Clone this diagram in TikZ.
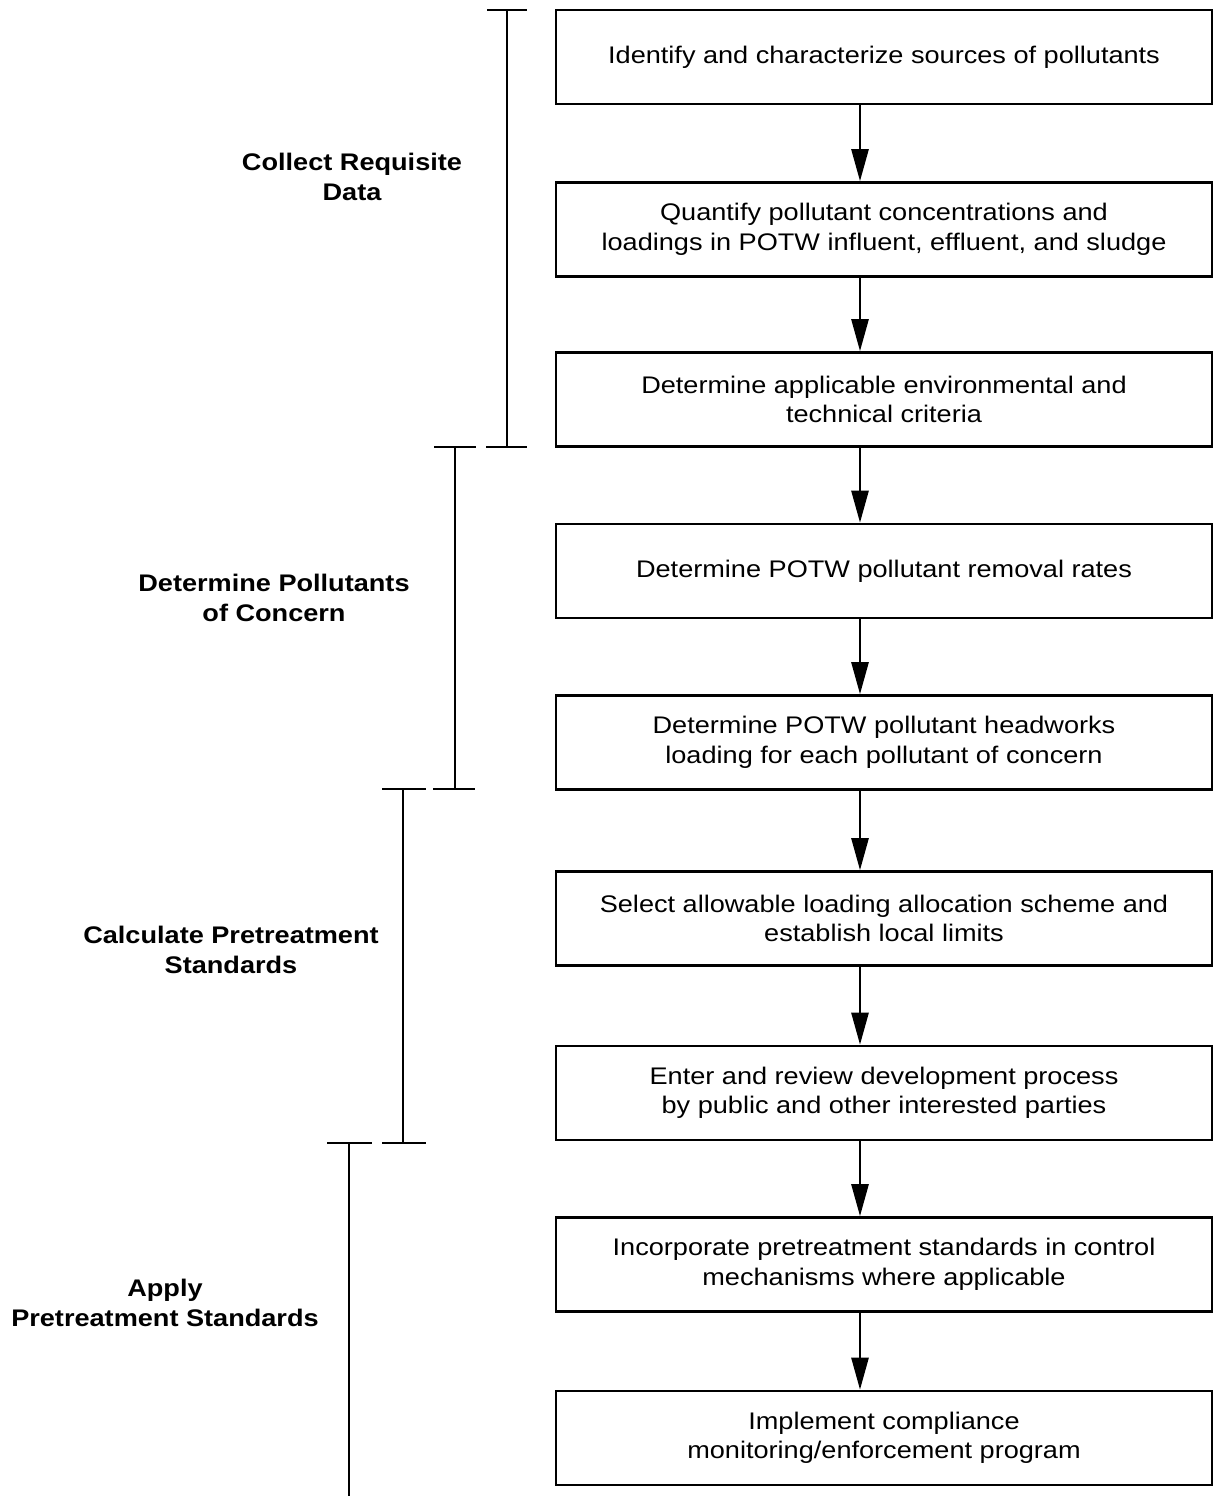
\documentclass[tikz,border=0pt]{standalone}
\usepackage{fontspec}
\setmainfont[FakeStretch=1.13]{Liberation Sans}
\usetikzlibrary{arrows.meta}
\begin{document}
\begin{tikzpicture}[x=1pt,y=-1pt,
  stepbox/.style={draw,line width=2.6pt,minimum width=656pt,minimum height=94pt,
    inner sep=0pt,align=center,font=\fontsize{24}{29.5}\selectfont},
  flow/.style={line width=2.6pt,-{Triangle[length=32pt,width=17pt]}},
  brace/.style={line width=2.6pt},
  phase/.style={align=center,font=\fontsize{24}{29.5}\selectfont\bfseries}]
\useasboundingbox (0,0) rectangle (1215,1496);

% process steps
\node[stepbox] (s1) at (884,57) {Identify and characterize sources of pollutants};
\node[stepbox] (s2) at (884,229.5) {Quantify pollutant concentrations and\\loadings in POTW influent, effluent, and sludge};
\node[stepbox] (s3) at (884,399.5) {Determine applicable environmental and\\technical criteria};
\node[stepbox] (s4) at (884,571) {Determine POTW pollutant removal rates};
\node[stepbox] (s5) at (884,742.5) {Determine POTW pollutant headworks\\loading for each pollutant of concern};
\node[stepbox] (s6) at (884,918.5) {Select allowable loading allocation scheme and\\establish local limits};
\node[stepbox] (s7) at (884,1093) {Enter and review development process\\by public and other interested parties};
\node[stepbox] (s8) at (884,1264.5) {Incorporate pretreatment standards in control\\mechanisms where applicable};
\node[stepbox] (s9) at (884,1438) {Implement compliance\\monitoring/enforcement program};

% arrows between steps
\foreach \a/\b in {s1/s2,s2/s3,s3/s4,s4/s5,s5/s6,s6/s7,s7/s8,s8/s9}
  \draw[flow] ([xshift=-24pt]\a.south) -- ([xshift=-24pt]\b.north);

% phase brackets
\coordinate (c1t) at (507,10);   \coordinate (c1b) at (507,447);
\coordinate (c2t) at (455,447);  \coordinate (c2b) at (455,789);
\coordinate (c3t) at (403,789);  \coordinate (c3b) at (403,1143);
\coordinate (c4t) at (349,1143); \coordinate (c4b) at (349,1496);

\draw[brace] (c1t) -- (c1b);
\draw[brace] ([xshift=-20pt]c1t) -- ([xshift=20pt]c1t);
\draw[brace] ([xshift=-21pt]c1b) -- ([xshift=20pt]c1b);

\draw[brace] (c2t) -- (c2b);
\draw[brace] ([xshift=-21pt]c2t) -- ([xshift=21pt]c2t);
\draw[brace] ([xshift=-22pt]c2b) -- ([xshift=20pt]c2b);

\draw[brace] (c3t) -- (c3b);
\draw[brace] ([xshift=-21pt]c3t) -- ([xshift=23pt]c3t);
\draw[brace] ([xshift=-21pt]c3b) -- ([xshift=23pt]c3b);

\draw[brace] (c4t) -- (c4b);
\draw[brace] ([xshift=-22pt]c4t) -- ([xshift=23pt]c4t);

% phase labels
\node[phase] (p1) at (352,177) {Collect Requisite\\Data};
\node[phase] (p2) at (274,598) {Determine Pollutants\\of Concern};
\node[phase] (p3) at (231,950) {Calculate Pretreatment\\Standards};
\node[phase] (p4) at (165,1303) {Apply\\Pretreatment Standards};
\end{tikzpicture}
\end{document}
